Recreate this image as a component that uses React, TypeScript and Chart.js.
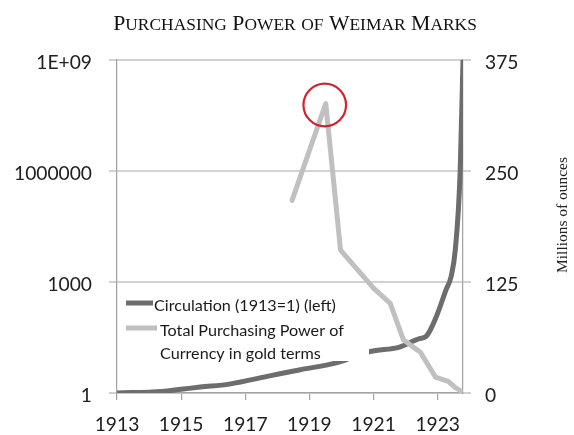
import React, { useEffect, useRef } from 'react';
import { Chart, registerables } from 'chart.js';

Chart.register(...registerables);

const TITLE = 'Purchasing Power of Weimar Marks';
const RIGHT_AXIS_TITLE = 'Millions of ounces';
const SERIES_NAMES = ['Circulation (1913=1) (left)', 'Total Purchasing Power of\nCurrency in gold terms'];

const LEFT_TICKS = [1, 1000, 1000000, 1000000000];
const LEFT_TICK_LABELS = ['1', '1000', '1000000', '1E+09'];
const RIGHT_TICKS = [0, 125, 250, 375];
const YEAR_TICKS = [1913, 1915, 1917, 1919, 1921, 1923];
const X_MIN = 1913;
const X_MAX = 1923.79;

const circulationYears = [1913, 1914.4, 1915.0, 1915.6, 1916.5, 1917.8, 1918.72, 1919.87, 1920.9, 1921.81, 1922.43, 1922.64, 1922.98, 1923.26, 1923.42, 1923.55, 1923.7, 1923.79];
const circulationValues = [1, 1.1, 1.26, 1.45, 1.74, 2.95, 4.27, 6.6, 13.2, 17.4, 29.5, 33.9, 129, 617, 1410, 7400, 890000, 1000000000];

const goldYears = [1918.46, 1919.51, 1919.97, 1921.0, 1921.52, 1921.93, 1922.46, 1922.93, 1923.33, 1923.55, 1923.71];
const goldValues = [217, 326, 161, 118, 101, 60, 46, 18, 13, 6, 2.6];

const PEAK_INDEX = 1;

const DARK = '#6d6d6d';
const LIGHT = '#c0c0c0';
const GRID_COLOR = '#d2d2d2';
const AXIS_COLOR = '#a3a3a3';
const TICK_COLOR = '#202020';
const SANS = 'Lato';
const SERIF = '"Liberation Serif"';

type Run = { s: string; big: boolean };
function smallCapsRuns(text: string): Run[] {
  const runs: Run[] = [];
  for (const ch of text) {
    const big = ch === ' ' || ch !== ch.toLowerCase();
    const s = big ? ch : ch.toUpperCase();
    const last = runs[runs.length - 1];
    if (last && last.big === big) last.s += s;
    else runs.push({ s, big });
  }
  return runs;
}
function runsWidth(ctx: CanvasRenderingContext2D, runs: Run[], size: number) {
  let w = 0;
  for (const r of runs) {
    ctx.font = `${r.big ? size : size * 0.8}px ${SERIF}`;
    w += ctx.measureText(r.s).width;
  }
  return w;
}

export default function App() {
  const ref = useRef<HTMLCanvasElement>(null);
  useEffect(() => {
    const canvas = ref.current!;
    const m = document.createElement('canvas').getContext('2d')!;
    const fit = (text: string, family: string, target: number) => {
      m.font = `100px ${family}`;
      return (100 * target) / m.measureText(text).width;
    };
    const tickSize = fit('1000000', SANS, 78);
    const legendSize = fit(SERIES_NAMES[0], SANS, 182);
    const rightTitleSize = fit(RIGHT_AXIS_TITLE, SERIF, 116);
    const titleRuns = smallCapsRuns(TITLE);
    const titleSize = (100 * 364) / runsWidth(m, titleRuns, 100);

    const decor = {
      id: 'decor',
      afterDatasetsDraw(chart: any) {
        const { ctx, chartArea } = chart;
        ctx.save();
        // legend box
        const bx = chartArea.left + 1.2;
        ctx.fillStyle = '#ffffff';
        ctx.fillRect(bx, 289, 369 - bx, 361 - 289);
        ctx.lineCap = 'butt';
        ctx.lineWidth = 5;
        ctx.strokeStyle = DARK;
        ctx.beginPath();
        ctx.moveTo(126, 303);
        ctx.lineTo(153, 303);
        ctx.stroke();
        ctx.strokeStyle = LIGHT;
        ctx.beginPath();
        ctx.moveTo(126, 328);
        ctx.lineTo(157, 328);
        ctx.stroke();
        ctx.fillStyle = '#1a1a1a';
        ctx.font = `${legendSize}px ${SANS}`;
        ctx.textBaseline = 'alphabetic';
        ctx.textAlign = 'left';
        ctx.fillText(SERIES_NAMES[0], 154, 310.5);
        const lines = SERIES_NAMES[1].split('\n');
        ctx.fillText(lines[0], 160, 336);
        ctx.fillText(lines[1], 160, 358.5);
        ctx.restore();
      },
      afterDraw(chart: any) {
        const { ctx } = chart;
        ctx.save();
        // title in small caps
        ctx.fillStyle = '#111111';
        ctx.textBaseline = 'alphabetic';
        ctx.textAlign = 'left';
        const tw = runsWidth(ctx, titleRuns, titleSize);
        let x = 295 - tw / 2;
        for (const r of titleRuns) {
          ctx.font = `${r.big ? titleSize : titleSize * 0.8}px ${SERIF}`;
          ctx.fillText(r.s, x, 29.5);
          x += ctx.measureText(r.s).width;
        }
        // right axis title, reading bottom to top
        ctx.font = `${rightTitleSize}px ${SERIF}`;
        ctx.fillStyle = '#222222';
        ctx.translate(566.5, 215);
        ctx.rotate(-Math.PI / 2);
        ctx.textAlign = 'center';
        ctx.fillText(RIGHT_AXIS_TITLE, 0, 0);
        ctx.setTransform(1, 0, 0, 1, 0, 0);
        // red circle around the peak
        const pt = chart.getDatasetMeta(1).data[PEAK_INDEX];
        ctx.strokeStyle = '#d3222e';
        ctx.lineWidth = 2.2;
        ctx.beginPath();
        ctx.arc(pt.x - 1, pt.y + 1.5, 21.3, 0, Math.PI * 2);
        ctx.stroke();
        ctx.restore();
      },
    };

    const chart = new Chart(canvas, {
      type: 'line',
      data: {
        datasets: [
          {
            label: SERIES_NAMES[0],
            data: circulationYears.map((x, i) => ({ x, y: circulationValues[i] })),
            yAxisID: 'y',
            borderColor: DARK,
            borderWidth: 5,
            pointRadius: 0,
            cubicInterpolationMode: 'monotone',
            borderJoinStyle: 'round',
            borderCapStyle: 'round',
            order: 1,
          },
          {
            label: SERIES_NAMES[1],
            data: goldYears.map((x, i) => ({ x, y: goldValues[i] })),
            yAxisID: 'y1',
            borderColor: LIGHT,
            borderWidth: 5,
            pointRadius: 0,
            tension: 0,
            borderJoinStyle: 'round',
            borderCapStyle: 'round',
            order: 0,
          },
        ],
      },
      options: {
        animation: false,
        responsive: false,
        devicePixelRatio: 1,
        events: [],
        layout: { padding: { top: 60, left: 0, right: 0, bottom: 0 } },
        plugins: {
          legend: { display: false },
          title: { display: false },
          tooltip: { enabled: false },
        },
        scales: {
          x: {
            type: 'linear',
            min: X_MIN,
            max: X_MAX,
            afterBuildTicks: (s: any) => {
              s.ticks = YEAR_TICKS.map((v) => ({ value: v }));
            },
            afterFit: (s: any) => {
              s.height = 42;
            },
            ticks: {
              callback: (v: any) => String(v),
              font: { family: SANS, size: tickSize },
              color: TICK_COLOR,
              padding: 13,
              maxRotation: 0,
              autoSkip: false,
            },
            grid: { drawOnChartArea: false, drawTicks: true, tickLength: 7, color: AXIS_COLOR, lineWidth: 1.25 },
            border: { color: AXIS_COLOR, width: 1.25 },
          },
          y: {
            type: 'logarithmic',
            position: 'left',
            min: 1,
            max: 1000000000,
            afterBuildTicks: (s: any) => {
              s.ticks = LEFT_TICKS.map((v) => ({ value: v }));
            },
            afterFit: (s: any) => {
              s.width = 117;
            },
            ticks: {
              callback: (v: any) => LEFT_TICK_LABELS[LEFT_TICKS.indexOf(Number(v))] ?? '',
              font: { family: SANS, size: tickSize },
              color: TICK_COLOR,
              padding: 17,
              labelOffset: 3,
              autoSkip: false,
            },
            grid: { color: GRID_COLOR, lineWidth: 2, tickLength: 8 },
            border: { color: AXIS_COLOR, width: 1.25 },
          },
          y1: {
            type: 'linear',
            position: 'right',
            min: 0,
            max: 375,
            afterBuildTicks: (s: any) => {
              s.ticks = RIGHT_TICKS.map((v) => ({ value: v }));
            },
            afterFit: (s: any) => {
              s.width = 111;
            },
            ticks: {
              callback: (v: any) => String(v),
              font: { family: SANS, size: tickSize },
              color: TICK_COLOR,
              padding: 14,
              labelOffset: 3,
              autoSkip: false,
            },
            grid: { drawOnChartArea: false, color: GRID_COLOR, lineWidth: 2, tickLength: 8 },
            border: { color: AXIS_COLOR, width: 1.25 },
          },
        },
      } as any,
      plugins: [decor],
    });
    return () => chart.destroy();
  }, []);

  return (
    <div style={{ position: 'fixed', left: 0, top: 0, width: 574, height: 435, background: '#ffffff' }}>
      <canvas ref={ref} width={574} height={435} style={{ display: 'block', width: 574, height: 435 }} />
    </div>
  );
}
